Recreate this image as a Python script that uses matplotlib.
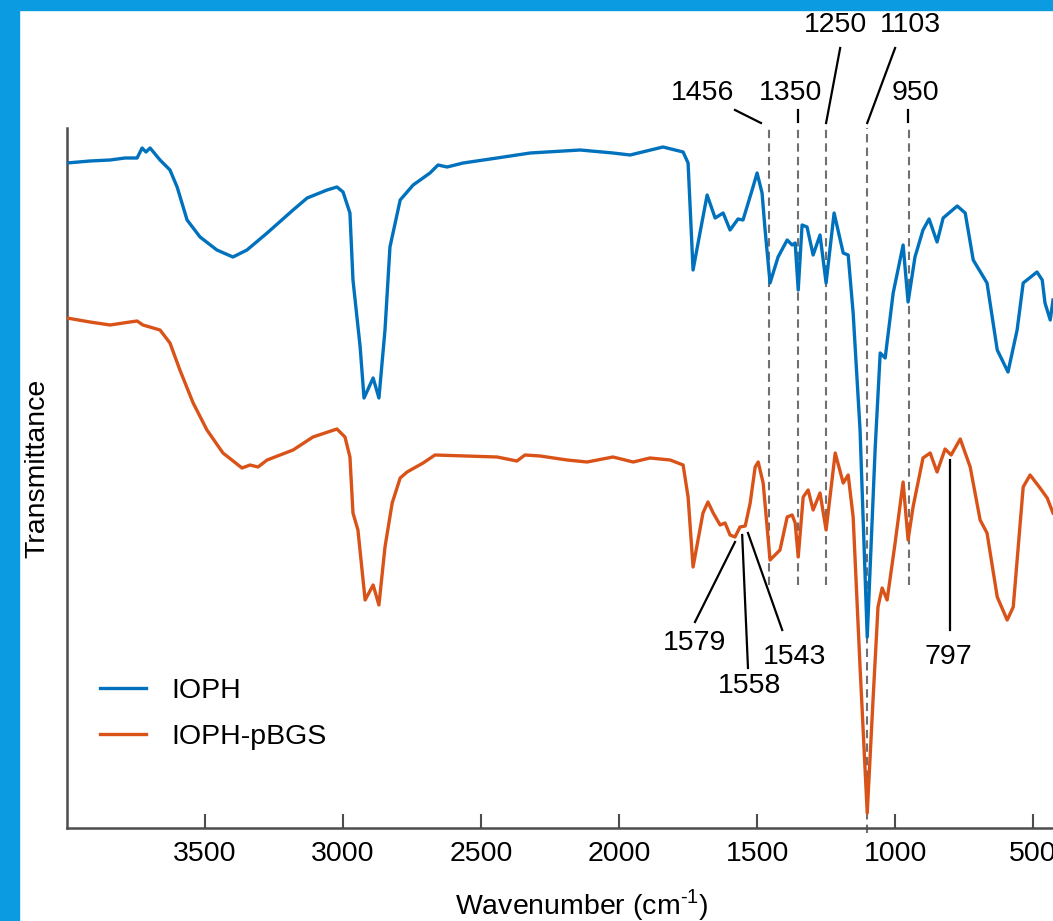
import matplotlib
matplotlib.use("Agg")
import matplotlib.pyplot as plt
from matplotlib.patches import Rectangle

plt.rcParams['font.family'] = ['Liberation Sans', 'DejaVu Sans']
plt.rcParams['mathtext.fontset'] = 'custom'
plt.rcParams['mathtext.rm'] = 'Liberation Sans'

# IOPH spectrum (wavenumber in cm-1, transmittance in a.u.)
wn_ioph = [4000, 3917, 3844, 3790, 3746, 3728, 3714, 3699, 3663, 3627, 3601, 3565, 3518, 3457,
           3399, 3348, 3275, 3181, 3130, 3058, 3022, 3000, 2975, 2964, 2938, 2924, 2891, 2870,
           2848, 2830, 2793, 2746, 2685, 2656, 2623, 2565, 2442, 2322, 2141, 2022, 1960, 1841,
           1768, 1750, 1732, 1707, 1681, 1652, 1623, 1598, 1569, 1551, 1518, 1500, 1482, 1471,
           1453, 1424, 1391, 1373, 1362, 1351, 1337, 1319, 1297, 1272, 1250, 1221, 1188, 1170,
           1152, 1127, 1101, 1072, 1054, 1036, 1007, 971, 953, 928, 899, 877, 848, 826, 775,
           746, 717, 667, 630, 591, 558, 536, 486, 467, 457, 438, 428]
t_ioph = [6.65, 6.67, 6.68, 6.70, 6.70, 6.80, 6.76, 6.80, 6.68, 6.58, 6.41, 6.08, 5.91, 5.78,
          5.71, 5.78, 5.95, 6.18, 6.30, 6.38, 6.41, 6.36, 6.15, 5.48, 4.81, 4.30, 4.50, 4.30,
          4.98, 5.81, 6.28, 6.43, 6.55, 6.63, 6.61, 6.65, 6.70, 6.75, 6.78, 6.75, 6.73, 6.81,
          6.76, 6.65, 5.58, 5.95, 6.33, 6.10, 6.15, 5.98, 6.09, 6.08, 6.38, 6.55, 6.35, 5.98,
          5.45, 5.71, 5.88, 5.83, 5.85, 5.38, 6.03, 6.01, 5.73, 5.93, 5.45, 6.15, 5.75, 5.73,
          5.15, 3.98, 1.91, 3.81, 4.75, 4.70, 5.35, 5.83, 5.26, 5.71, 5.98, 6.09, 5.86, 6.10, 6.22,
          6.15, 5.68, 5.45, 4.78, 4.56, 4.98, 5.45, 5.56, 5.48, 5.25, 5.08, 5.28]

# IOPH-pBGS spectrum
wn_pbgs = [4000, 3917, 3844, 3772, 3746, 3725, 3663, 3627, 3591, 3543, 3493, 3435, 3366, 3337,
           3308, 3275, 3181, 3109, 3022, 2993, 2975, 2964, 2946, 2920, 2891, 2870, 2848, 2822,
           2793, 2768, 2710, 2667, 2442, 2370, 2341, 2286, 2188, 2116, 2022, 1949, 1888, 1815,
           1768, 1750, 1732, 1714, 1696, 1678, 1659, 1634, 1616, 1598, 1580, 1562, 1543, 1525,
           1507, 1496, 1478, 1453, 1417, 1391, 1373, 1362, 1351, 1333, 1315, 1297, 1272, 1250,
           1217, 1188, 1170, 1152, 1127, 1101, 1080, 1062, 1047, 1029, 1000, 971, 953, 935, 899,
           873, 848, 819, 797, 764, 728, 692, 667, 630, 594, 572, 536, 511, 475, 449, 428]
t_pbgs = [5.10, 5.06, 5.03, 5.06, 5.07, 5.03, 4.98, 4.85, 4.58, 4.25, 3.98, 3.75, 3.60, 3.63,
          3.61, 3.68, 3.78, 3.91, 3.99, 3.91, 3.71, 3.15, 2.98, 2.28, 2.43, 2.23, 2.81, 3.25,
          3.50, 3.56, 3.65, 3.73, 3.71, 3.67, 3.73, 3.72, 3.68, 3.66, 3.71, 3.66, 3.70, 3.68,
          3.63, 3.31, 2.61, 2.88, 3.15, 3.26, 3.15, 3.03, 3.05, 2.93, 2.91, 3.01, 3.02, 3.25,
          3.61, 3.66, 3.45, 2.68, 2.78, 3.11, 3.13, 3.05, 2.71, 3.31, 3.38, 3.18, 3.35, 2.98,
          3.75, 3.45, 3.53, 3.11, 1.61, 0.15, 1.28, 2.21, 2.40, 2.28, 2.85, 3.46, 2.88, 3.21, 3.70,
          3.75, 3.56, 3.79, 3.73, 3.89, 3.61, 3.08, 2.95, 2.31, 2.08, 2.21, 3.41, 3.53, 3.40,
          3.30, 3.15]

xticks = [3500, 3000, 2500, 2000, 1500, 1000, 500]
dashed_peaks = [1456, 1350, 1250, 1103, 950]

fs = 20.5
blue = '#0072bd'
orange = '#d95319'
axcol = '#4d4d4d'

fig = plt.figure(figsize=(10.53, 9.21), dpi=100)
ax = fig.add_axes([67/1053, 93/921, 986/1053, 700/921])

# frame of the page
fig.patches.append(Rectangle((0, 0), 19/1053, 1, transform=fig.transFigure, color='#0b9be0', zorder=10))
fig.patches.append(Rectangle((0, 1 - 10/921), 1, 10/921, transform=fig.transFigure, color='#0b9be0', zorder=10))

ax.plot(wn_ioph, t_ioph, color=blue, lw=2.4, label='IOPH', zorder=3)
ax.plot(wn_pbgs, t_pbgs, color=orange, lw=2.4, label='IOPH-pBGS', zorder=3)

for p in dashed_peaks:
    bottom = -0.05 if p == 1103 else 2.43
    ax.plot([p, p], [bottom, 7.0], color='#707070', lw=1.5, ls=(0, (4, 2.5)), zorder=2, clip_on=False)

# top labels
kw = dict(fontsize=fs, ha='center', va='center', clip_on=False)
ax.text(1696, 7.35, '1456', **kw)
ax.text(1380, 7.35, '1350', **kw)
ax.text(928, 7.35, '950', **kw)
ax.text(1217, 8.03, '1250', **kw)
ax.text(946, 8.03, '1103', **kw)
lk = dict(color='black', lw=1.6, clip_on=False)
ax.plot([1580, 1486], [7.18, 7.05], **lk)
ax.plot([1351, 1351], [7.18, 7.06], **lk)
ax.plot([953, 953], [7.18, 7.06], **lk)
ax.plot([1199, 1250], [7.80, 7.05], **lk)
ax.plot([1000, 1101], [7.80, 7.05], **lk)

# bottom labels
ax.text(1725, 1.85, '1579', **kw)
ax.text(1529, 1.42, '1558', **kw)
ax.text(1366, 1.71, '1543', **kw)
ax.text(808, 1.71, '797', **kw)
ax.plot([1725, 1580], [2.06, 2.86], **lk)
ax.plot([1533, 1554], [1.60, 2.93], **lk)
ax.plot([1409, 1533], [1.98, 2.95], **lk)
ax.plot([801, 801], [1.98, 3.68], **lk)

ax.set_xlim(4000, 428)
ax.set_ylim(0, 7.0)
ax.set_xticks(xticks)
ax.set_yticks([])
ax.tick_params(axis='x', direction='in', length=10, width=1.5, color=axcol, labelsize=fs, pad=9)
for s in ['top', 'right']:
    ax.spines[s].set_visible(False)
for s in ['left', 'bottom']:
    ax.spines[s].set_color(axcol)
    ax.spines[s].set_linewidth(1.8)

ax.set_xlabel('Wavenumber (cm$^{\\text{-1}}$)', fontsize=fs)
ax.xaxis.label.set_va('center')
ax.xaxis.set_label_coords(0.522, -0.11)
ax.set_ylabel('Transmittance', fontsize=fs)
ax.yaxis.label.set_va('center')
ax.yaxis.set_label_coords(-0.030, 0.514)

ax.legend(loc='center left', bbox_to_anchor=(0.0335, 0.163), frameon=False, fontsize=fs,
          handlelength=1.62, handletextpad=0.9, labelspacing=0.72, borderpad=0, borderaxespad=0)

fig.savefig('out.png', dpi=100)
